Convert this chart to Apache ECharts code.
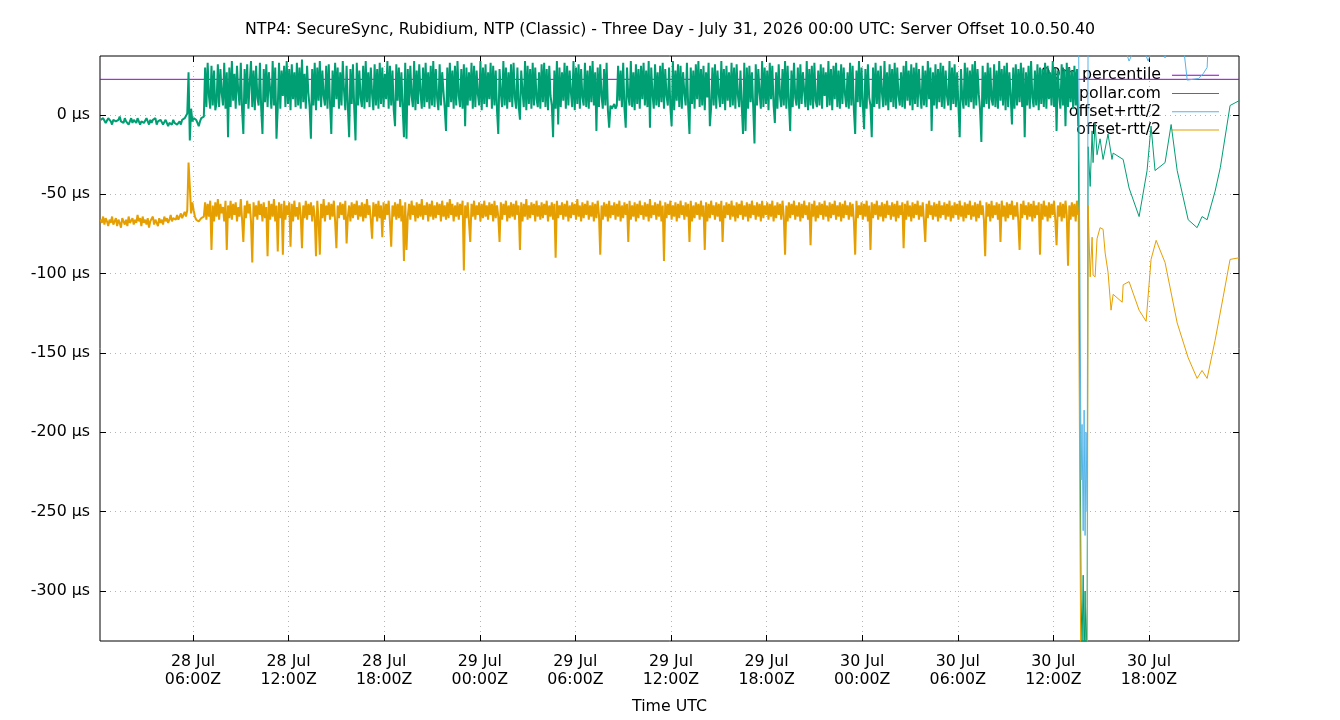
<!DOCTYPE html>
<html>
<head>
<meta charset="utf-8">
<title>Server Offset</title>
<script src="https://cdn.jsdelivr.net/npm/echarts@6/dist/echarts.min.js"></script>
<style>
  html, body { margin: 0; padding: 0; background: #fff; }
  #chart { width: 1340px; height: 720px; }
</style>
</head>
<body>
<div id="chart"></div>
<script>
// hours since 28 Jul 00:00Z
const xMin = 0.163
const xMax = 71.65
const xTicks = [6, 12, 18, 24, 30, 36, 42, 48, 54, 60, 66]
const yTicks = [-300, -250, -200, -150, -100, -50, 0]

// regular sampling for the dense part, 0.08 h apart starting at 0.2 h
const sampleStart = 0.2
const sampleStep = 0.08

// offset (µs), dense part
const offsetDense = [
  -3,-4,-2,-3,-5,-4,-2,-3,-4,-6,-3,-2,-4,-5,-3,-1,-4,-3,-5,-2,
  -4,-3,-6,-4,-2,-5,-3,-4,-5,-2,-3,-6,-4,-3,-5,-4,-2,-4,-6,-3,
  -5,-3,-4,-2,-6,-4,-5,-3,-4,-6,-5,-3,-4,-7,-5,-4,-6,-3,-5,-4,
  -6,-5,-4,-6,-3,-4,-2,-3,1,27,-16,4,-4,-2,-1,-3,-5,-7,-4,-2,
  -3,-1,30,5,33,12,4,31,6,28,3,8,32,5,29,14,6,33,4,27,
  -14,30,5,34,9,26,4,31,15,6,33,3,-12,29,7,32,4,20,34,5,
  28,3,31,11,6,33,4,-12,29,8,32,5,27,16,4,34,6,30,-15,5,
  33,4,28,12,31,5,34,7,29,3,32,10,27,5,33,6,30,4,35,8,
  26,4,31,14,5,-15,29,6,33,3,30,9,34,5,28,12,6,31,4,32,
  7,-12,28,5,33,10,30,4,27,6,34,15,3,31,5,-14,29,7,32,4,
  -16,33,6,28,11,5,31,4,34,8,27,5,30,13,3,32,6,29,4,33,
  7,30,5,26,10,34,4,31,6,28,3,-7,32,9,30,5,27,4,-14,33,
  -15,29,6,31,12,5,34,3,28,7,32,14,4,30,5,33,8,27,4,31,
  6,34,5,29,11,3,32,6,27,15,4,-10,30,5,33,8,28,4,31,6,
  34,12,5,29,4,32,-7,30,6,27,9,33,4,31,5,28,13,6,34,3,
  30,7,32,5,27,10,33,4,31,6,28,3,-12,29,14,5,34,6,30,4,
  27,8,32,5,33,11,4,30,6,-3,28,15,5,34,3,31,7,29,4,33,
  6,30,10,5,27,4,32,8,33,5,29,3,31,12,6,-14,28,4,34,-6,
  30,5,27,9,33,4,31,6,28,14,5,34,3,30,7,32,4,29,11,6,
  33,5,28,4,31,8,34,6,27,-10,30,5,32,12,4,29,6,33,3,-8,
  6,4,5,7,4,6,31,9,28,5,33,4,-8,30,12,6,34,5,27,3,
  32,7,29,4,31,10,33,6,28,5,34,-8,30,13,4,32,6,27,5,31,
  8,33,4,29,12,6,30,5,-7,34,3,28,9,32,5,31,4,27,14,6,
  33,5,-12,30,7,28,4,32,10,34,5,29,6,31,3,27,11,33,-7,5,
  30,6,32,4,28,13,5,34,7,29,3,31,9,27,5,33,6,30,4,32,
  12,5,28,6,-12,33,-10,30,4,31,8,27,5,-18,32,6,29,14,4,34,
  5,30,7,28,3,33,10,31,6,-5,27,4,32,12,5,29,6,34,4,31,
  8,-10,28,5,33,11,6,30,4,32,7,27,15,5,34,3,29,6,31,4,
  33,9,5,28,6,32,4,30,12,27,5,34,6,29,3,31,10,33,5,28,
  4,32,7,30,13,5,27,4,33,6,31,3,-12,28,8,34,5,30,6,-9,
  29,4,32,11,6,-14,30,5,33,7,28,4,31,14,5,34,6,27,3,32,
  8,29,5,33,4,30,12,6,27,5,31,4,34,9,28,6,32,3,30,7,
  33,5,29,13,4,31,6,28,5,34,10,30,-10,27,6,32,4,29,8,33,
  5,31,4,28,12,6,34,3,30,7,32,5,27,6,-14,29,11,4,33,6,
  30,5,28,8,32,4,34,6,29,13,3,-17,31,5,27,7,33,4,30,10,
  6,32,5,28,4,34,9,29,6,31,3,33,5,27,12,-6,30,4,32,6,
  29,8,33,5,30,-14,27,6,31,4,34,11,5,28,6,32,3,30,7,29,
  5,33,4,31,10,27,6,34,5,30,-10,28,13,4,32,6,29,-7,33,5,
  30,8,28,4,31,6,29,-7
]

// offset-rtt/2 (µs), dense part
const lowDense = [
  -66,-68,-64,-69,-65,-67,-70,-66,-68,-64,-69,-67,-65,-70,-66,-68,-71,-65,-67,-69,
  -66,-70,-64,-68,-67,-65,-69,-66,-68,-63,-67,-65,-70,-64,-68,-66,-69,-65,-71,-67,
  -68,-64,-69,-66,-67,-70,-65,-68,-66,-69,-64,-67,-65,-68,-66,-63,-67,-65,-64,-66,
  -63,-66,-64,-62,-65,-63,-61,-64,-60,-30,-45,-62,-55,-60,-64,-66,-65,-67,-66,-65,
  -66,-64,-55,-66,-56,-64,-54,-85,-57,-67,-55,-64,-53,-66,-56,-62,-58,-67,-54,-85,
  -57,-65,-54,-66,-56,-63,-55,-67,-58,-64,-53,-66,-80,-57,-65,-54,-62,-56,-67,-93,
  -55,-64,-57,-66,-54,-63,-56,-67,-55,-65,-58,-89,-54,-66,-56,-64,-53,-67,-57,-86,
  -55,-65,-56,-88,-54,-66,-57,-63,-55,-83,-56,-67,-54,-64,-58,-66,-55,-63,-84,-57,
  -65,-54,-66,-56,-63,-55,-67,-57,-64,-89,-54,-66,-88,-56,-65,-53,-67,-57,-63,-55,
  -66,-56,-64,-54,-67,-84,-57,-65,-55,-63,-56,-66,-54,-81,-64,-57,-67,-55,-65,-56,
  -63,-54,-66,-57,-64,-55,-67,-56,-65,-53,-63,-57,-66,-78,-55,-64,-56,-67,-54,-65,
  -57,-77,-55,-66,-56,-63,-54,-67,-83,-57,-64,-55,-66,-56,-65,-53,-67,-57,-92,-55,
  -85,-64,-56,-66,-54,-63,-57,-67,-55,-65,-56,-64,-53,-66,-57,-63,-55,-67,-56,-64,
  -54,-66,-57,-65,-55,-63,-56,-67,-54,-64,-57,-66,-55,-65,-53,-63,-56,-67,-57,-64,
  -55,-66,-56,-63,-54,-98,-57,-65,-55,-67,-80,-56,-64,-54,-66,-57,-63,-55,-67,-56,
  -65,-54,-64,-57,-66,-55,-63,-56,-67,-54,-65,-57,-64,-80,-55,-66,-56,-63,-54,-67,
  -57,-65,-55,-64,-56,-66,-54,-63,-57,-85,-55,-67,-56,-64,-53,-66,-57,-65,-55,-63,
  -56,-67,-54,-64,-57,-66,-55,-65,-56,-63,-54,-67,-57,-64,-55,-66,-56,-90,-54,-65,
  -57,-63,-55,-66,-56,-64,-54,-67,-57,-65,-55,-63,-56,-66,-53,-64,-57,-67,-55,-65,
  -56,-63,-54,-66,-57,-64,-55,-67,-56,-65,-54,-63,-88,-57,-66,-55,-64,-56,-67,-54,
  -65,-57,-63,-55,-66,-56,-64,-54,-67,-57,-65,-55,-63,-56,-80,-54,-66,-57,-64,-55,
  -67,-56,-65,-54,-63,-57,-66,-55,-64,-56,-67,-53,-65,-57,-63,-55,-66,-56,-64,-54,
  -67,-57,-92,-55,-65,-56,-63,-54,-66,-57,-64,-55,-67,-56,-65,-54,-63,-57,-66,-55,
  -64,-56,-80,-54,-67,-57,-65,-55,-63,-56,-66,-54,-64,-57,-85,-55,-67,-56,-65,-54,
  -63,-57,-66,-55,-64,-56,-67,-54,-80,-57,-65,-55,-63,-56,-66,-54,-64,-57,-67,-55,
  -65,-56,-63,-54,-66,-57,-64,-55,-67,-56,-65,-54,-63,-57,-66,-55,-64,-56,-67,-54,
  -65,-57,-63,-55,-66,-56,-64,-54,-67,-57,-65,-55,-63,-56,-66,-54,-64,-88,-57,-67,
  -55,-65,-56,-63,-54,-66,-57,-64,-55,-67,-56,-65,-54,-63,-57,-66,-55,-82,-56,-64,
  -54,-67,-57,-65,-55,-63,-56,-66,-54,-64,-57,-67,-55,-65,-56,-63,-54,-66,-57,-64,
  -55,-67,-56,-65,-54,-63,-57,-66,-55,-64,-56,-67,-88,-54,-65,-57,-63,-55,-66,-56,
  -64,-54,-67,-57,-85,-55,-65,-56,-63,-54,-66,-57,-64,-55,-67,-56,-65,-54,-63,-57,
  -66,-55,-64,-56,-67,-54,-65,-57,-63,-55,-84,-56,-66,-54,-64,-57,-67,-55,-65,-56,
  -63,-54,-66,-57,-64,-55,-67,-80,-56,-65,-54,-63,-57,-66,-55,-64,-56,-67,-54,-65,
  -57,-63,-55,-66,-56,-64,-54,-67,-57,-65,-55,-63,-56,-66,-54,-64,-57,-67,-55,-65,
  -56,-63,-54,-66,-57,-64,-55,-67,-56,-65,-54,-63,-57,-66,-89,-55,-64,-56,-67,-54,
  -65,-57,-63,-55,-66,-56,-80,-54,-64,-57,-67,-55,-65,-56,-63,-54,-66,-57,-64,-55,
  -67,-85,-56,-65,-54,-63,-57,-66,-55,-64,-56,-67,-54,-65,-57,-63,-55,-88,-56,-66,
  -54,-64,-57,-67,-55,-65,-56,-63,-54,-66,-82,-57,-64,-55,-67,-56,-65,-54,-63,-95,
  -57,-66,-55,-64,-56,-67,-54,-63
]

// offset+rtt/2 (µs) before the excursion, above the plotted range
const highTimes = [0.2, 6, 12, 18, 24, 30, 36, 42, 48, 54, 61.56]
const highValues = [60, 85, 92, 90, 88, 93, 91, 89, 94, 90, 92]

// the excursion around 30 Jul 13:45Z
const spikeTimes = [61.74, 61.80, 61.87, 61.93, 61.99, 62.05, 62.12]
const offsetSpike = [-305, -335, -290, -345, -300, -340, -310]
const highSpike = [-230, -195, -262, -186, -265, -200, -250]
const lowSpike = [-385, -420, -370, -430, -390, -415, -380]

// sparse samples afterwards
const offsetTailTimes = [62.18, 62.31, 62.43, 62.49, 62.62, 62.74, 62.93, 63.12, 63.43, 63.68, 63.75, 64.38, 64.75, 65.38, 65.88, 66.13, 66.38, 67.01, 67.39, 67.77, 68.46, 69.02, 69.33, 69.65, 70.15, 70.48, 70.65, 71.09, 71.65]
const offsetTailValues = [-20, -45, -10, -30, -5, -25, -15, -28, -12, -28, -24, -28, -46, -64, -35, -7, -35, -30, -6, -35, -66, -71, -64, -66, -48, -33, -22, 6, 9]

const lowTailTimes = [62.18, 62.31, 62.43, 62.49, 62.62, 62.74, 62.93, 63.12, 63.25, 63.43, 63.62, 63.75, 64.32, 64.38, 64.75, 65.38, 65.82, 66.13, 66.45, 67.01, 67.77, 68.46, 69.02, 69.33, 69.65, 70.15, 70.65, 71.09, 71.65]
const lowTailValues = [-57, -102, -77, -101, -102, -78, -71, -72, -87, -99, -123, -113, -118, -107, -105, -123, -130, -91, -79, -93, -131, -153, -166, -161, -166, -142, -115, -91, -90]

const highTailTimes = [62.18, 62.62, 63.12, 63.75, 64.38, 64.75, 65.38, 65.95, 66.45, 67.01, 67.39, 68.20, 68.40, 69.10, 69.40, 69.65, 69.72, 70.40, 71.09, 71.65]
const highTailValues = [70, 85, 60, 55, 45, 34, 48, 34, 50, 36, 55, 40, 22, 23, 26, 30, 45, 70, 90, 95]

const percentile = 22.5

const seriesNames = ['99th percentile', 'time.pollar.com', 'offset+rtt/2', 'offset-rtt/2']
const colors = ['#9400d3', '#009e73', '#56b4e9', '#e69f00']

function pairs(times, values) {
  return values.map((v, i) => [times[i], v])
}
function dense(values) {
  return values.map((v, i) => [sampleStart + i * sampleStep, v])
}

// dense stretch drawn a little heavier so the band fills in like the original
const offsetDenseData = dense(offsetDense)
const offsetSparseData = offsetDenseData.slice(-1)
  .concat(pairs(spikeTimes, offsetSpike))
  .concat(pairs(offsetTailTimes, offsetTailValues))
const lowDenseData = dense(lowDense)
const lowSparseData = lowDenseData.slice(-1)
  .concat(pairs(spikeTimes, lowSpike))
  .concat(pairs(lowTailTimes, lowTailValues))
const highData = pairs(highTimes, highValues)
  .concat(pairs(spikeTimes, highSpike))
  .concat(pairs(highTailTimes, highTailValues))
const pctData = [[xMin, percentile], [xMax, percentile]]

const font = 'DejaVu Sans'
const fontSize = 15.8
const days = ['28 Jul', '29 Jul', '30 Jul', '31 Jul']

function timeLabel(h) {
  const d = Math.floor(h / 24)
  const hh = String(Math.round(h - d * 24)).padStart(2, '0')
  return days[d] + '\n' + hh + ':00Z'
}

const tickStyle = { show: true, inside: true, length: 6, lineStyle: { color: '#000', width: 1 } }
const gridLine = { show: true, lineStyle: { color: '#b4b4b4', width: 1, type: [1, 4] } }

function line(name, data, color, width) {
  return {
    name: name,
    type: 'line',
    data: data,
    showSymbol: false,
    symbol: 'none',
    sampling: false,
    lineStyle: { color: color, width: width || 1 },
    itemStyle: { color: color },
    z: 3,
    animation: false
  }
}

const chart = echarts.init(document.getElementById('chart'))
chart.setOption({
  animation: false,
  backgroundColor: '#fff',
  title: {
    text: 'NTP4: SecureSync, Rubidium, NTP (Classic) - Three Day - July 31, 2026 00:00 UTC: Server Offset 10.0.50.40',
    left: 'center',
    top: 17,
    textStyle: { fontFamily: font, fontSize: fontSize, fontWeight: 'normal', color: '#000' }
  },
  legend: {
    data: seriesNames,
    orient: 'vertical',
    right: 116,
    top: 61,
    align: 'right',
    itemWidth: 47,
    itemHeight: 1,
    itemGap: 0,
    icon: 'rect',
    selectedMode: false,
    z: 1,
    textStyle: { fontFamily: font, fontSize: fontSize, color: '#000', lineHeight: 18.3, padding: [0, 6, 0, 0] }
  },
  grid: {
    left: 100, right: 101, top: 56, bottom: 79,
    show: true, borderColor: '#000', borderWidth: 1, backgroundColor: 'transparent'
  },
  xAxis: [{
    type: 'value',
    min: xMin,
    max: xMax,
    name: 'Time UTC',
    nameLocation: 'middle',
    nameGap: 58,
    nameTextStyle: { fontFamily: font, fontSize: fontSize, color: '#000' },
    axisLine: { show: false, onZero: false },
    axisTick: Object.assign({ customValues: xTicks }, tickStyle),
    axisLabel: {
      customValues: xTicks,
      formatter: timeLabel,
      fontFamily: font, fontSize: fontSize, color: '#000', lineHeight: 18, margin: 12
    },
    splitLine: gridLine
  }, {
    type: 'value',
    position: 'top',
    min: xMin,
    max: xMax,
    axisLine: { show: false, onZero: false },
    axisTick: Object.assign({ customValues: xTicks }, tickStyle),
    axisLabel: { show: false },
    splitLine: { show: false }
  }],
  yAxis: [{
    type: 'value',
    min: -331.5,
    max: 37.2,
    axisLine: { show: false, onZero: false },
    axisTick: Object.assign({ customValues: yTicks }, tickStyle),
    axisLabel: {
      customValues: yTicks,
      formatter: v => v + ' µs',
      fontFamily: font, fontSize: fontSize, color: '#000', margin: 10
    },
    splitLine: gridLine
  }, {
    type: 'value',
    position: 'right',
    min: -331.5,
    max: 37.2,
    axisLine: { show: false, onZero: false },
    axisTick: Object.assign({ customValues: yTicks }, tickStyle),
    axisLabel: { show: false },
    splitLine: { show: false }
  }],
  series: [
    line(seriesNames[0], pctData, colors[0]),
    line(seriesNames[1], offsetDenseData, colors[1], 2),
    line(seriesNames[1], offsetSparseData, colors[1]),
    line(seriesNames[2], highData, colors[2]),
    line(seriesNames[3], lowDenseData, colors[3], 2),
    line(seriesNames[3], lowSparseData, colors[3])
  ]
})
</script>
</body>
</html>
